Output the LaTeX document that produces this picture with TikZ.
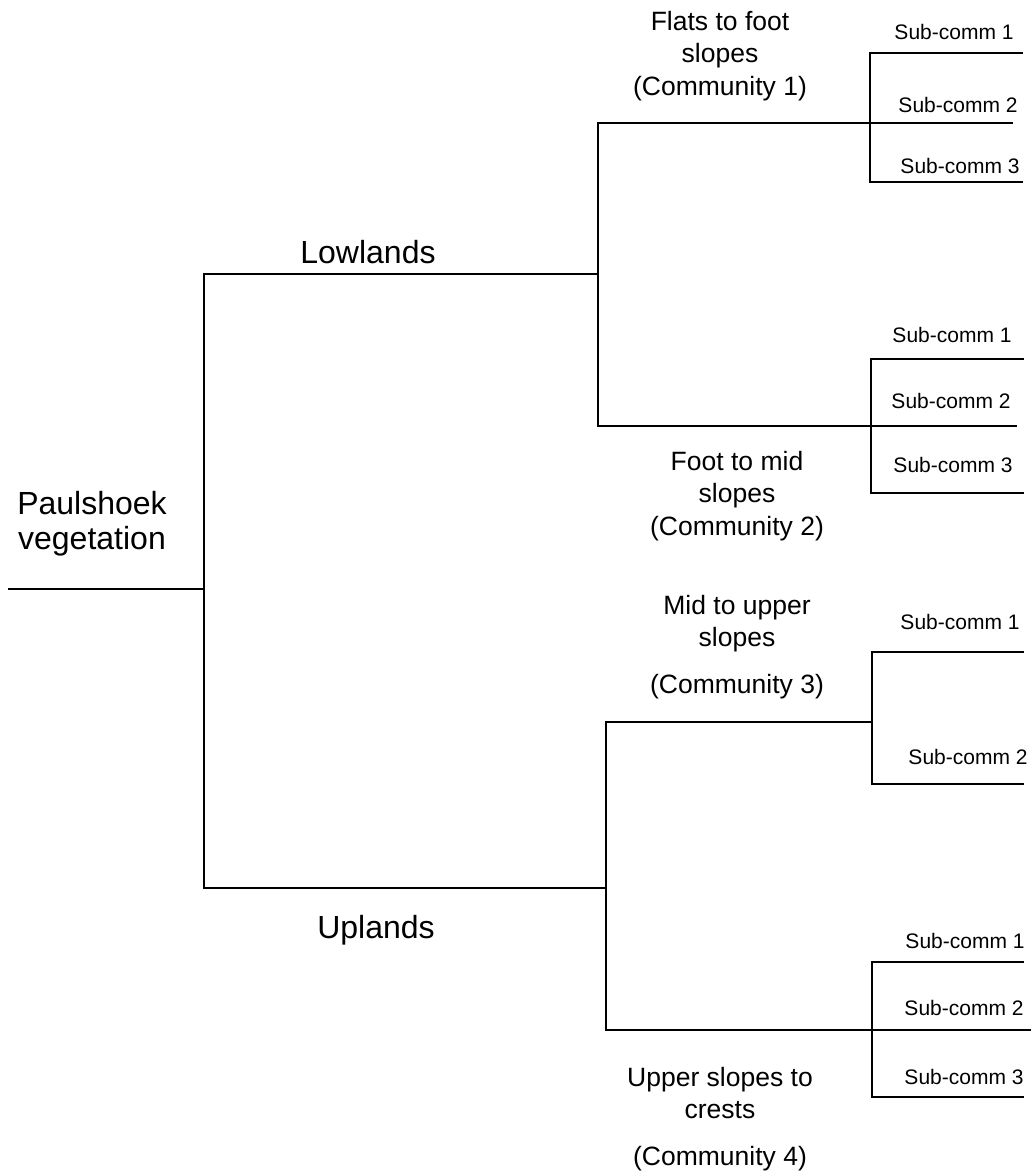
\documentclass[tikz,border=0pt]{standalone}
\usepackage{fontspec}
\setmainfont{Liberation Sans}
\begin{document}
\begin{tikzpicture}[x=1pt,y=-1pt,
  link/.style={line width=2.6pt, line join=miter},
  big/.style={font=\fontsize{32}{35}\selectfont, align=center, inner sep=0pt},
  comm/.style={font=\fontsize{26.5}{32.5}\selectfont, align=center, inner sep=0pt},
  sub/.style={font=\fontsize{21}{25}\selectfont, inner sep=0pt}]
\useasboundingbox (0,0) rectangle (1031,1172);
% junction coordinates
\coordinate (root) at (8,589);
\coordinate (j0) at (204,589);
\coordinate (lowS) at (598,274);
\coordinate (upS) at (606,888);
\coordinate (j0t) at (204,274);
\coordinate (j0b) at (204,888);
% lowlands bracket
\coordinate (c1s) at (598,123);
\coordinate (c2s) at (598,426);
\coordinate (c1e) at (1013,123);
\coordinate (c2e) at (1017,426);
% uplands bracket
\coordinate (c3s) at (606,722);
\coordinate (c4s) at (606,1030);
\coordinate (c3e) at (872,722);
\coordinate (c4e) at (1031,1030);
% group 1
\coordinate (g1a) at (870,53);  \coordinate (g1ae) at (1023,53);
\coordinate (g1c) at (870,182); \coordinate (g1ce) at (1023,182);
% group 2
\coordinate (g2a) at (871,359); \coordinate (g2ae) at (1024,359);
\coordinate (g2c) at (871,493); \coordinate (g2ce) at (1024,493);
% group 3
\coordinate (g3a) at (872,652); \coordinate (g3ae) at (1024,652);
\coordinate (g3c) at (872,784); \coordinate (g3ce) at (1024,784);
% group 4
\coordinate (g4a) at (872,962);  \coordinate (g4ae) at (1024,962);
\coordinate (g4c) at (872,1097); \coordinate (g4ce) at (1024,1097);

\draw[link] (root) -- (j0);
\draw[link] (lowS) -- (j0t) -- (j0b) -- (upS);
\draw[link] (c1e) -- (c1s) -- (c2s) -- (c2e);
\draw[link] (c3e) -- (c3s) -- (c4s) -- (c4e);
\draw[link] (g1ae) -- (g1a) -- (g1c) -- (g1ce);
\draw[link] (g2ae) -- (g2a) -- (g2c) -- (g2ce);
\draw[link] (g3ae) -- (g3a) -- (g3c) -- (g3ce);
\draw[link] (g4ae) -- (g4a) -- (g4c) -- (g4ce);

% labels
\node[big] (paul) at (92,524) {Paulshoek\\vegetation};
\node[big] (lowl) at (368,252) {Lowlands};
\node[big] (upl) at (376,930) {Uplands};
\node[comm] (com1) at (720,56) {Flats to foot\\slopes\\(Community 1)};
\node[comm] (com2) at (737,496) {Foot to mid\\slopes\\(Community 2)};
\node[comm] (com3) at (737,647) {Mid to upper\\slopes\\[14pt](Community 3)};
\node[comm] (com4) at (720,1119) {Upper slopes to\\crests\\[14pt](Community 4)};

\node[sub] (s11) at (954,32) {Sub-comm 1};
\node[sub] (s12) at (958,105) {Sub-comm 2};
\node[sub] (s13) at (960,166) {Sub-comm 3};
\node[sub] (s21) at (952,335) {Sub-comm 1};
\node[sub] (s22) at (951,401) {Sub-comm 2};
\node[sub] (s23) at (953,465) {Sub-comm 3};
\node[sub] (s31) at (960,622) {Sub-comm 1};
\node[sub] (s32) at (968,757) {Sub-comm 2};
\node[sub] (s41) at (965,941) {Sub-comm 1};
\node[sub] (s42) at (964,1008) {Sub-comm 2};
\node[sub] (s43) at (964,1077) {Sub-comm 3};
\end{tikzpicture}
\end{document}
